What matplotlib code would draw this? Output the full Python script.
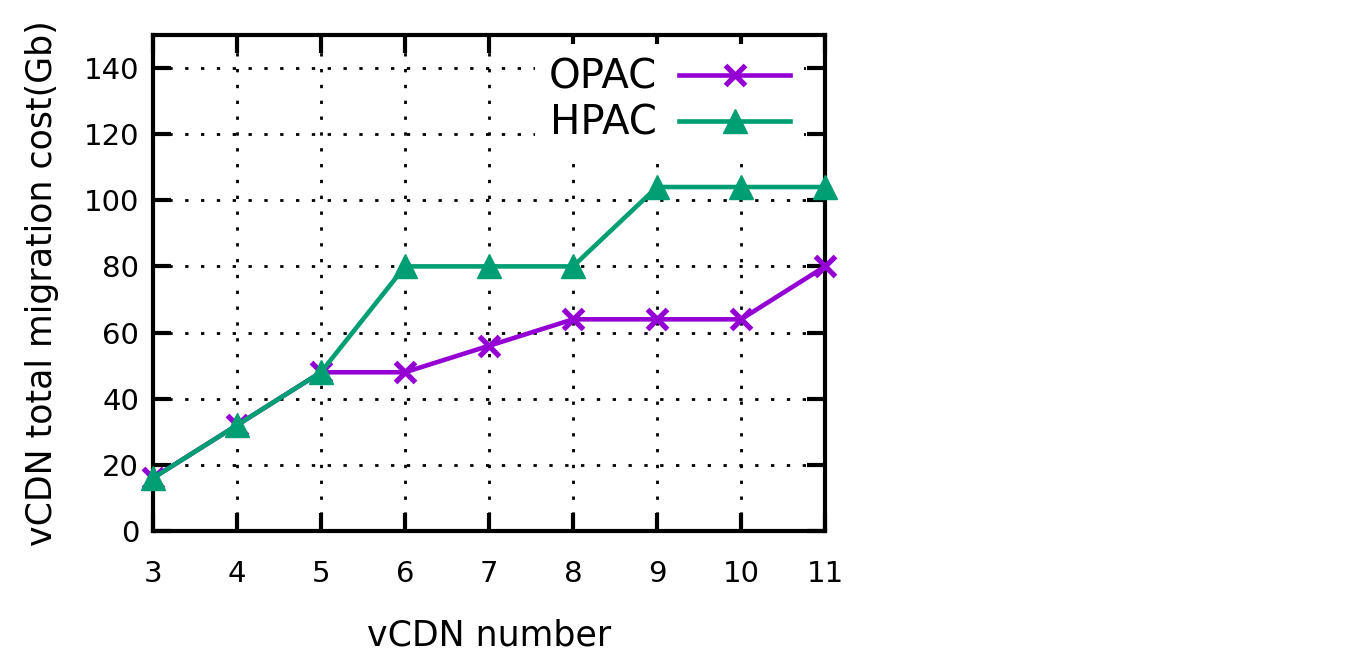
import matplotlib
matplotlib.use("Agg")
import matplotlib.pyplot as plt

vcdn_number = [3, 4, 5, 6, 7, 8, 9, 10, 11]
opac_cost = [16, 32, 48, 48, 56, 64, 64, 64, 80]
hpac_cost = [16, 32, 48, 80, 80, 80, 104, 104, 104]
y_ticks = [0, 20, 40, 60, 80, 100, 120, 140]

plt.rcParams['font.family'] = ['DejaVu Sans']

fig = plt.figure(figsize=(13.66, 6.58), dpi=100)
ax = fig.add_axes([0.112, 0.193, 0.492, 0.754])

ax.plot(vcdn_number, opac_cost, color='#9400D3', lw=3.3, marker='x',
        markersize=14, markeredgewidth=3.8, label='OPAC', clip_on=False, zorder=3)
ax.plot(vcdn_number, hpac_cost, color='#009E73', lw=3.3, marker='^',
        markersize=17, label='HPAC', clip_on=False, zorder=4)

ax.set_xlim(3, 11)
ax.set_ylim(0, 150)
ax.set_xticks(vcdn_number)
ax.set_yticks(y_ticks)
ax.tick_params(direction='in', length=13, width=3, top=True, right=True,
               labelsize=21)
ax.tick_params(axis='x', pad=21)
ax.tick_params(axis='y', pad=10)
for s in ax.spines.values():
    s.set_linewidth(3)
ax.grid(True, color='black', linestyle=(0, (1.2, 4.5)), lw=2)

ax.set_xlabel('vCDN number', fontsize=25, labelpad=22)
ax.set_ylabel('vCDN total migration cost(Gb)', fontsize=25, labelpad=18)

# opaque key box, grid does not show through it (as in the gnuplot original)
leg = ax.legend(loc='upper right', bbox_to_anchor=(0.969, 0.982),
                frameon=True, fancybox=False, framealpha=1,
                facecolor='white', edgecolor='none',
                markerfirst=False, fontsize=29,
                handlelength=2.75, handletextpad=0.55, labelspacing=0.15,
                borderaxespad=0, borderpad=0.35)

fig.savefig('out.png', dpi=100, facecolor='w')
